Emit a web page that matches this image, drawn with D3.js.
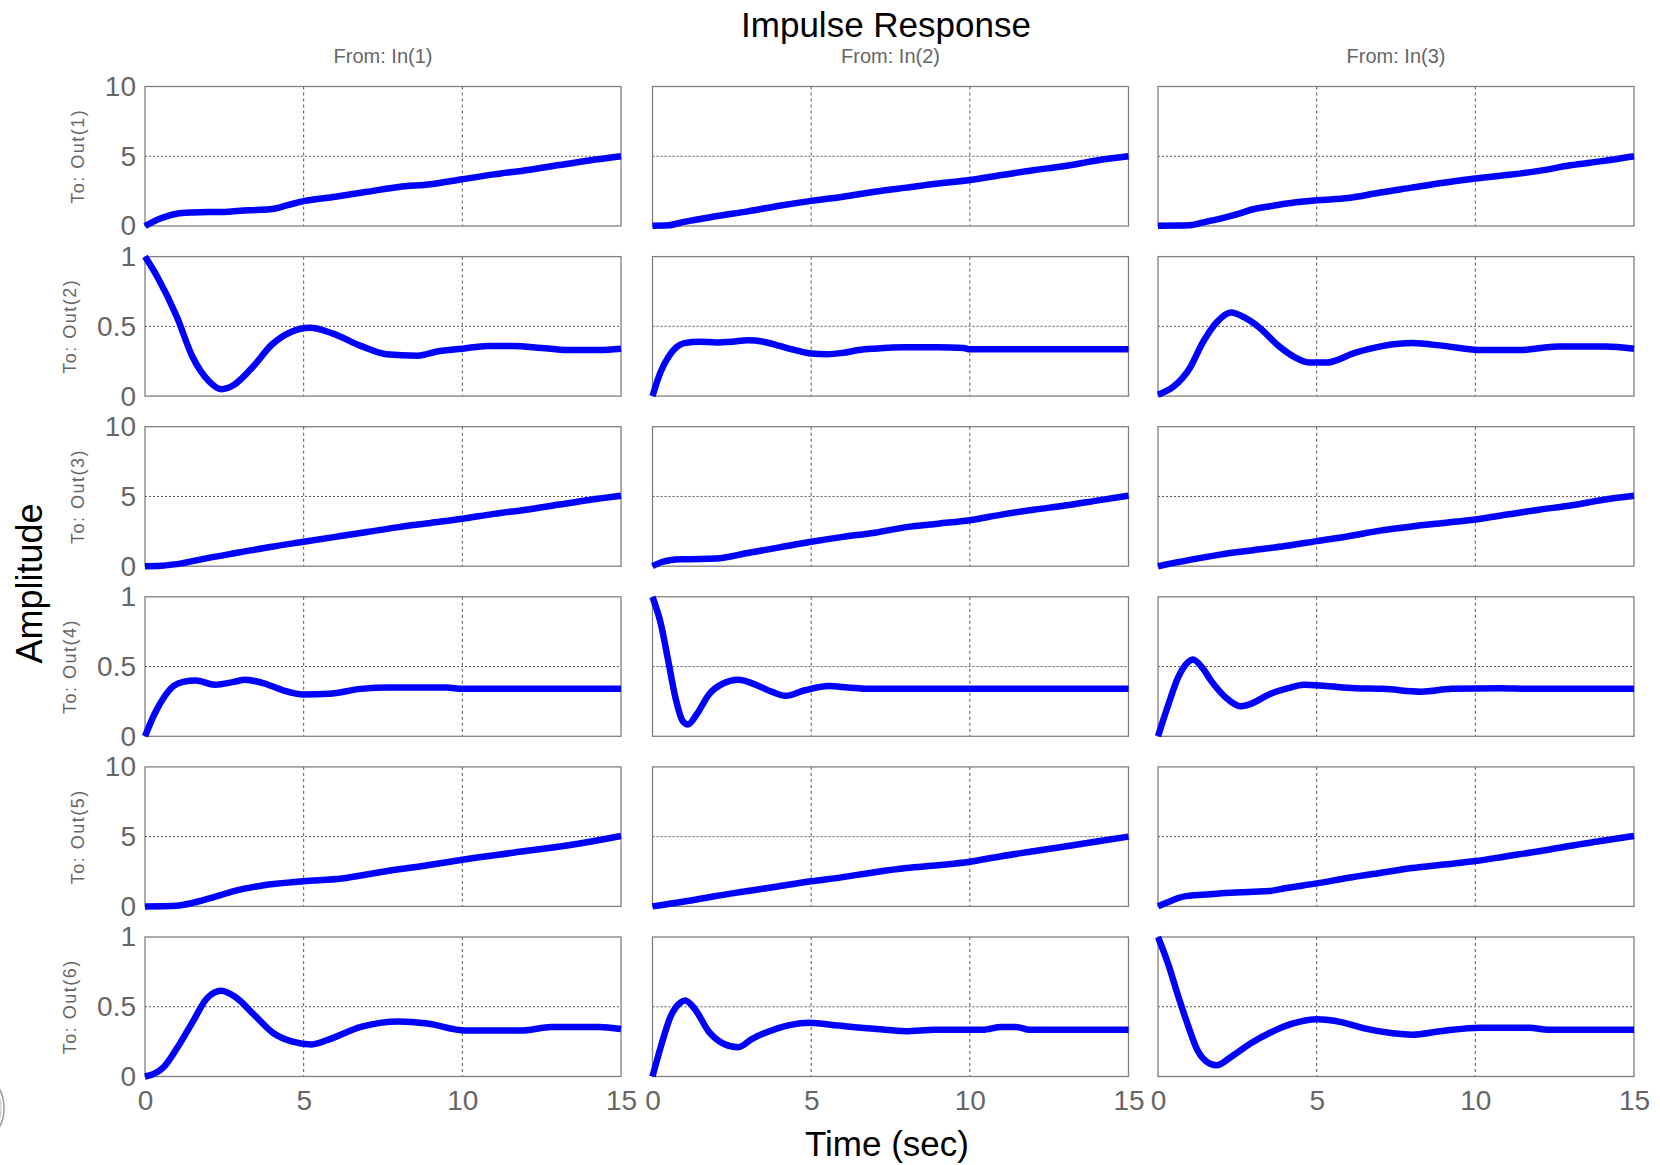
<!DOCTYPE html>
<html>
<head>
<meta charset="utf-8">
<script src="https://cdn.jsdelivr.net/npm/d3@7"></script>
<style>
  body { margin: 0; background: #fff; }
  text { font-family: "Liberation Sans", Arial, sans-serif; }
</style>
</head>
<body>
<script>
// impulse response, 6 outputs x 3 inputs, [time, amplitude]
const out1In1 = [[0,0],[0.25,0.3],[0.5,0.55],[0.75,0.75],[1,0.88],[1.5,0.97],[2,1.0],[2.5,1.0],[3,1.1],[3.5,1.15],[4,1.22],[4.5,1.5],[5,1.78],[6,2.1],[7,2.45],[8,2.8],[9,3.0],[10,3.35],[11,3.7],[12,4.0],[13,4.35],[14,4.7],[15,5.0]]
const out1In2 = [[0,0.02],[0.5,0.05],[1,0.3],[2,0.7],[3,1.05],[4,1.45],[5,1.8],[6,2.1],[7,2.45],[8,2.75],[9,3.05],[10,3.3],[11,3.65],[12,4.0],[13,4.3],[14,4.7],[15,5.0]]
const out1In3 = [[0,0.02],[1,0.05],[1.5,0.3],[2,0.55],[2.5,0.85],[3,1.2],[3.5,1.4],[4,1.6],[5,1.85],[6,2.0],[7,2.4],[8,2.75],[9,3.1],[10,3.4],[11,3.65],[12,3.95],[13,4.35],[14,4.65],[15,5.0]]

const out2In1 = [[0,1.0],[0.4,0.85],[1,0.57],[1.5,0.28],[2,0.11],[2.4,0.05],[2.8,0.08],[3.4,0.21],[4,0.37],[4.6,0.46],[5.2,0.49],[5.9,0.45],[6.8,0.36],[7.6,0.3],[8.6,0.29],[9.2,0.32],[10,0.34],[10.8,0.36],[11.6,0.36],[12.5,0.345],[13.3,0.33],[14.3,0.33],[15,0.34]]
const out2In2 = [[0,0],[0.25,0.17],[0.5,0.28],[0.75,0.35],[1,0.38],[1.5,0.39],[2,0.385],[2.5,0.39],[3,0.4],[3.5,0.39],[4,0.36],[4.5,0.33],[5,0.305],[5.5,0.3],[6,0.31],[6.5,0.33],[7,0.34],[8,0.35],[9,0.35],[9.8,0.345],[10,0.335],[15,0.335]]
const out2In3 = [[0,0.01],[0.5,0.07],[1,0.2],[1.4,0.38],[1.85,0.53],[2.3,0.6],[2.75,0.56],[3.2,0.49],[3.8,0.36],[4.3,0.28],[4.8,0.24],[5.3,0.24],[6.2,0.31],[7.1,0.36],[8,0.38],[9,0.36],[10.2,0.33],[11.4,0.33],[12.6,0.355],[14.1,0.355],[15,0.34]]

const out3In1 = [[0,0],[0.5,0.03],[1,0.15],[2,0.6],[3,1.0],[4,1.4],[5,1.75],[6,2.1],[7,2.45],[8,2.8],[9,3.1],[10,3.4],[11,3.75],[12,4.05],[13,4.4],[14,4.75],[15,5.05]]
const out3In2 = [[0,0],[0.3,0.3],[0.6,0.45],[1,0.5],[2,0.55],[3,0.95],[4,1.35],[5,1.75],[6,2.1],[7,2.4],[8,2.8],[9,3.05],[10,3.3],[11,3.7],[12,4.05],[13,4.35],[14,4.7],[15,5.05]]
const out3In3 = [[0,0],[1,0.45],[2,0.85],[3,1.15],[4,1.45],[5,1.8],[6,2.15],[7,2.55],[8,2.85],[9,3.1],[10,3.35],[11,3.7],[12,4.05],[13,4.35],[14,4.75],[15,5.05]]

const out4In1 = [[0,0],[0.3,0.16],[0.6,0.28],[0.9,0.36],[1.2,0.39],[1.6,0.4],[2.2,0.37],[2.8,0.39],[3.15,0.405],[3.75,0.38],[4.35,0.33],[5,0.3],[5.8,0.305],[6.8,0.34],[7.7,0.35],[9.5,0.35],[10,0.34],[15,0.34]]
const out4In2 = [[0,1.0],[0.27,0.8],[0.48,0.56],[0.73,0.27],[0.95,0.11],[1.12,0.085],[1.4,0.16],[1.78,0.3],[2.24,0.38],[2.7,0.405],[3.14,0.38],[3.75,0.32],[4.2,0.29],[4.8,0.33],[5.56,0.36],[6.16,0.35],[6.8,0.34],[15,0.34]]
const out4In3 = [[0,0],[0.33,0.23],[0.63,0.42],[0.94,0.53],[1.1,0.55],[1.4,0.49],[1.7,0.39],[2.15,0.275],[2.6,0.215],[2.9,0.23],[3.5,0.3],[4.1,0.345],[4.6,0.37],[5.3,0.36],[6.2,0.345],[7.1,0.34],[8.3,0.32],[9.25,0.34],[10.8,0.345],[11.7,0.34],[15,0.34]]

const out5In1 = [[0,0],[1,0.05],[1.5,0.25],[2,0.55],[2.8,1.1],[3.7,1.5],[5,1.8],[6.2,2.0],[7.4,2.45],[8.9,2.95],[10,3.35],[11.6,3.85],[13.4,4.4],[15,5.05]]
const out5In2 = [[0,0],[1,0.35],[2,0.75],[3,1.1],[4,1.45],[5,1.8],[6,2.1],[7,2.45],[8,2.75],[9,2.95],[10,3.2],[11,3.6],[12,3.95],[13,4.3],[14,4.65],[15,5.0]]
const out5In3 = [[0,0],[0.3,0.3],[0.8,0.7],[1.5,0.85],[2,0.95],[3,1.05],[3.5,1.1],[4,1.3],[5,1.65],[6,2.05],[7,2.4],[8,2.75],[9,3.0],[10,3.25],[11,3.6],[12,3.95],[13,4.35],[14,4.7],[15,5.05]]

const out6In1 = [[0,0],[0.3,0.02],[0.6,0.07],[1,0.2],[1.5,0.39],[1.95,0.56],[2.4,0.615],[2.85,0.57],[3.45,0.44],[4.05,0.31],[4.65,0.25],[5.25,0.23],[5.85,0.27],[6.8,0.355],[8,0.395],[8.9,0.38],[10.1,0.33],[11.9,0.33],[12.8,0.355],[14.3,0.355],[15,0.34]]
const out6In2 = [[0,0],[0.27,0.22],[0.57,0.43],[0.88,0.53],[1.03,0.545],[1.33,0.485],[1.78,0.32],[2.24,0.235],[2.7,0.21],[3.14,0.27],[3.75,0.33],[4.35,0.37],[4.95,0.385],[5.86,0.365],[7.07,0.34],[7.97,0.325],[8.9,0.335],[10.4,0.335],[11,0.355],[11.45,0.355],[11.9,0.335],[15,0.335]]
const out6In3 = [[0,1.0],[0.33,0.8],[0.63,0.58],[0.94,0.37],[1.24,0.19],[1.54,0.105],[1.84,0.08],[2.3,0.14],[2.9,0.235],[3.5,0.31],[4.26,0.38],[5,0.41],[5.77,0.39],[6.5,0.345],[7.4,0.31],[8,0.3],[8.9,0.325],[10.16,0.35],[11.7,0.35],[12.3,0.335],[15,0.335]]

const inputs = ['From: In(1)', 'From: In(2)', 'From: In(3)']
const outputs = ['To: Out(1)', 'To: Out(2)', 'To: Out(3)', 'To: Out(4)', 'To: Out(5)', 'To: Out(6)']
const responses = [
  [out1In1, out1In2, out1In3],
  [out2In1, out2In2, out2In3],
  [out3In1, out3In2, out3In3],
  [out4In1, out4In2, out4In3],
  [out5In1, out5In2, out5In3],
  [out6In1, out6In2, out6In3]
]
const yMax = [10, 1, 10, 1, 10, 1]
const yTicksBig = [0, 5, 10]
const yTicksSmall = [0, 0.5, 1]
const xTicks = [0, 5, 10, 15]

// sizes
const W = 1660, H = 1165
const colLeft = [145, 652.5, 1158], plotW = 476
const rowTop0 = 86.5, rowPitch = 170.1, plotH = 139.5
const grey = '#666'

const svg = d3.select('body').append('svg')
  .attr('width', W).attr('height', H)

const x = d3.scaleLinear().domain([0, 15]).range([0, plotW])
const line = (yS) => d3.line()
  .x(d => x(d[0]))
  .y(d => yS(d[1]))
  .curve(d3.curveMonotoneX)

responses.forEach((row, r) => {
  const top = rowTop0 + r * rowPitch
  const y = d3.scaleLinear().domain([0, yMax[r]]).range([plotH, 0])
  const yTicks = yMax[r] === 10 ? yTicksBig : yTicksSmall

  row.forEach((series, c) => {
    const g = svg.append('g').attr('transform', `translate(${colLeft[c]},${top})`)

    // grid
    g.selectAll('.vgrid').data(xTicks.slice(1, -1)).enter().append('line')
      .attr('x1', d => x(d)).attr('x2', d => x(d))
      .attr('y1', 0).attr('y2', plotH)
      .attr('stroke', '#555').attr('stroke-width', 1).attr('stroke-dasharray', '3,3')
    g.selectAll('.hgrid').data(yTicks.slice(1, -1)).enter().append('line')
      .attr('x1', 0).attr('x2', plotW)
      .attr('y1', d => y(d)).attr('y2', d => y(d))
      .attr('stroke', '#555').attr('stroke-width', 1).attr('stroke-dasharray', '2,2')

    // box
    g.append('rect').attr('width', plotW).attr('height', plotH)
      .attr('fill', 'none').attr('stroke', '#808080').attr('stroke-width', 1.3)

    // response
    g.append('path').datum(series)
      .attr('d', line(y))
      .attr('fill', 'none').attr('stroke', '#0000ff')
      .attr('stroke-width', 6.5).attr('stroke-linejoin', 'round')

    // y tick labels on first column
    if (c === 0) {
      const ax = g.append('g').call(d3.axisLeft(y).tickValues(yTicks).tickSize(0).tickPadding(9).tickFormat(d3.format('')))
      ax.select('.domain').remove()
      ax.selectAll('text').attr('font-size', 28).attr('fill', grey)
        .attr('font-family', '"Liberation Sans", Arial, sans-serif')

      let minX = 0
      ax.selectAll('text').each(function () { minX = Math.min(minX, this.getBBox().x) })
      g.append('text')
        .attr('transform', `translate(${minX - 21},${plotH / 2}) rotate(-90)`)
        .attr('text-anchor', 'middle')
        .attr('font-size', 18).attr('letter-spacing', 1.5).attr('fill', grey)
        .text(outputs[r])
    }

    // x tick labels on last row
    if (r === responses.length - 1) {
      const ax = g.append('g').attr('transform', `translate(0,${plotH})`)
        .call(d3.axisBottom(x).tickValues(xTicks).tickSize(0).tickPadding(14))
      ax.select('.domain').remove()
      ax.selectAll('text').attr('font-size', 28).attr('fill', grey)
        .attr('font-family', '"Liberation Sans", Arial, sans-serif')
    }

    // input header on first row
    if (r === 0) {
      g.append('text')
        .attr('x', plotW / 2).attr('y', 62.7 - top)
        .attr('text-anchor', 'middle')
        .attr('font-size', 20).attr('fill', grey)
        .text(inputs[c])
    }
  })
})

// titles
svg.append('text').attr('x', 886).attr('y', 36.5)
  .attr('text-anchor', 'middle').attr('font-size', 35).attr('fill', '#000')
  .text('Impulse Response')
svg.append('text').attr('x', 887).attr('y', 1156)
  .attr('text-anchor', 'middle').attr('font-size', 35).attr('fill', '#000')
  .text('Time (sec)')
svg.append('text')
  .attr('transform', 'translate(42,583.5) rotate(-90)')
  .attr('text-anchor', 'middle').attr('font-size', 36).attr('fill', '#000')
  .text('Amplitude')

// stray arc at the left edge of the screenshot
svg.append('ellipse').attr('cx', -16).attr('cy', 1108).attr('rx', 20).attr('ry', 30)
  .attr('fill', 'none').attr('stroke', '#999').attr('stroke-width', 1.5)
svg.append('ellipse').attr('cx', -16).attr('cy', 1108).attr('rx', 17).attr('ry', 27)
  .attr('fill', 'none').attr('stroke', '#bbb').attr('stroke-width', 1)
</script>
</body>
</html>
